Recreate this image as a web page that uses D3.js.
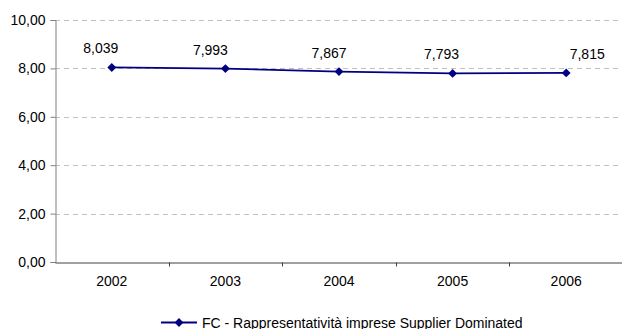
<!DOCTYPE html>
<html>
<head>
<meta charset="utf-8">
<script src="https://cdn.jsdelivr.net/npm/d3@7"></script>
<style>
  html, body { margin: 0; padding: 0; background: #fff; }
  svg { display: block; font-family: "Liberation Sans", Arial, sans-serif; }
</style>
</head>
<body>
<svg id="chart" width="622" height="329"></svg>
<script>
// Years on the category axis
const years = ["2002", "2003", "2004", "2005", "2006"];
// Series values (labels are drawn from these)
const values = [8.039, 7.993, 7.867, 7.793, 7.815];
// Value axis ticks
const yTicks = [0, 2, 4, 6, 8, 10];
const seriesName = "FC - Rappresentatività imprese Supplier Dominated";

const svg = d3.select("#chart");
const margin = { left: 55, right: -1, top: 20, bottom: 67 };
const W = 622, H = 329;
const FS = 14;

const x = d3.scaleBand().domain(years).range([margin.left, W - margin.right]).padding(0);
const y = d3.scaleLinear().domain([0, 10]).range([H - margin.bottom, margin.top]);

const itFmt = d3.formatLocale({ decimal: ",", thousands: ".", grouping: [3], currency: ["€", ""] });
const fmtAxis = itFmt.format(".2f");
const fmtVal = itFmt.format(".3f");

// Dashed horizontal gridlines
svg.append("g")
  .selectAll("line")
  .data(yTicks.filter(d => d > 0))
  .join("line")
  .attr("x1", margin.left)
  .attr("x2", W)
  .attr("y1", d => Math.round(y(d)) + 0.5)
  .attr("y2", d => Math.round(y(d)) + 0.5)
  .attr("stroke", "#c0c0c0")
  .attr("stroke-dasharray", "5,4");

// Value axis
const yAxis = svg.append("g")
  .attr("transform", `translate(${margin.left + 0.5},0)`)
  .call(d3.axisLeft(y).tickValues(yTicks).tickFormat(fmtAxis).tickSize(5).tickPadding(5));
yAxis.select(".domain").attr("stroke", "#808080");
yAxis.selectAll(".tick line").attr("stroke", "#808080");
yAxis.selectAll("text").attr("font-size", FS).attr("fill", "#000").attr("font-family", "Liberation Sans, Arial, sans-serif");

// Category axis
const xAxis = svg.append("g")
  .attr("transform", `translate(0,${Math.round(y(0)) + 0.5})`)
  .call(d3.axisBottom(x).tickSize(0).tickPadding(14));
xAxis.select(".domain").attr("stroke", "#404040");
xAxis.selectAll("text").attr("font-size", FS).attr("fill", "#000").attr("font-family", "Liberation Sans, Arial, sans-serif");
// Tick marks between categories
xAxis.selectAll(".sep")
  .data(years.slice(1))
  .join("line")
  .attr("class", "sep")
  .attr("x1", d => Math.round(x(d)) + 0.5)
  .attr("x2", d => Math.round(x(d)) + 0.5)
  .attr("y1", 0)
  .attr("y2", 4)
  .attr("stroke", "#404040");

// Series line
const cx = d => x(d) + x.bandwidth() / 2;
const line = d3.line().x((d, i) => cx(years[i])).y(d => y(d));
svg.append("path")
  .datum(values)
  .attr("d", line)
  .attr("fill", "none")
  .attr("stroke", "#000080")
  .attr("stroke-width", 1.8);

const diamond = d3.symbol().type(d3.symbolDiamond2).size(50);
svg.append("g")
  .selectAll("path")
  .data(values)
  .join("path")
  .attr("d", diamond)
  .attr("transform", (d, i) => `translate(${cx(years[i])},${y(d)})`)
  .attr("fill", "#000080");

// Data labels
const labelDx = [-11, -15, -10, -11, 21];
svg.append("g")
  .selectAll("text")
  .data(values)
  .join("text")
  .attr("x", (d, i) => cx(years[i]) + labelDx[i])
  .attr("y", d => y(d) - 14)
  .attr("text-anchor", "middle")
  .attr("font-size", FS)
  .attr("fill", "#000")
  .text(d => fmtVal(d));

// Legend
const lg = svg.append("g").attr("transform", "translate(161,322.5)");
lg.append("line").attr("x1", 0).attr("x2", 36).attr("y1", 0).attr("y2", 0)
  .attr("stroke", "#000080").attr("stroke-width", 1.8);
lg.append("path").attr("d", diamond).attr("transform", "translate(18,0)").attr("fill", "#000080");
lg.append("text").attr("x", 41).attr("y", 5).attr("font-size", FS).attr("fill", "#000").text(seriesName);
</script>
</body>
</html>
